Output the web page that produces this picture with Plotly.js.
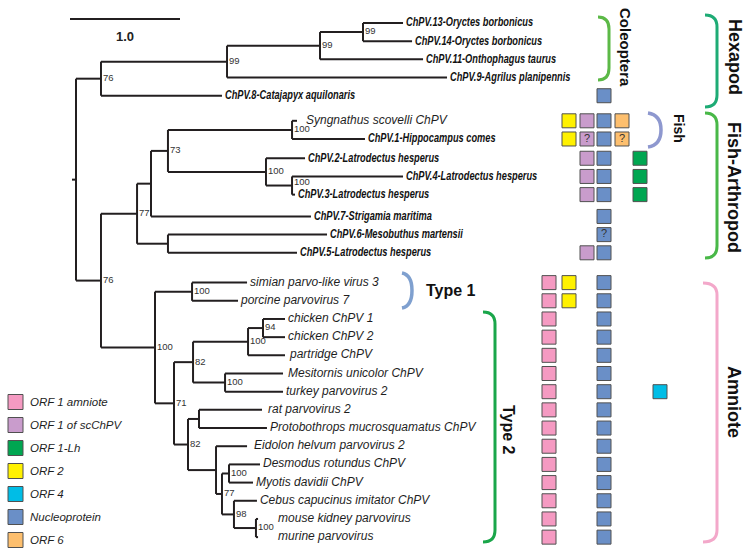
<!DOCTYPE html>
<html><head><meta charset="utf-8">
<script src="https://cdn.plot.ly/plotly-3.0.1.min.js"></script>
<style>html,body{margin:0;padding:0;background:#fff}#chart{width:754px;height:556px}</style>
</head><body><div id="chart"></div>
<script>
// ---------- DATA ----------
const leafNames = [
  'ChPV.13-Oryctes borbonicus','ChPV.14-Oryctes borbonicus','ChPV.11-Onthophagus taurus','ChPV.9-Agrilus planipennis',
  'ChPV.8-Catajapyx aquilonaris','Syngnathus scovelli ChPV','ChPV.1-Hippocampus comes','ChPV.2-Latrodectus hesperus',
  'ChPV.4-Latrodectus hesperus','ChPV.3-Latrodectus hesperus','ChPV.7-Strigamia maritima','ChPV.6-Mesobuthus martensii',
  'ChPV.5-Latrodectus hesperus','simian parvo-like virus 3','porcine parvovirus 7','chicken ChPV 1','chicken ChPV 2',
  'partridge ChPV','Mesitornis unicolor ChPV','turkey parvovirus 2','rat parvovirus 2','Protobothrops mucrosquamatus ChPV',
  'Eidolon helvum parvovirus 2','Desmodus rotundus ChPV','Myotis davidii ChPV','Cebus capucinus imitator ChPV',
  'mouse kidney parvovirus','murine parvovirus'];
const leafIsNew = [1,1,1,1,1,0,1,1,1,1,1,1,1,0,0,0,0,0,0,0,0,0,0,0,0,0,0,0];
const leafParent = ['E','E','D','C','B','K','K','L','M','M','H','I','I','O','O','S','S','R','T','T','V','V','W','Y','Y','Z','AA','AA'];
const leafDepth = [2.973,3.055,3.155,3.373,1.327,2.009,2.627,2.082,2.973,1.991,2.136,2.282,2.009,
  1.555,1.473,1.900,1.900,1.900,1.882,1.882,1.691,1.736,1.555,1.673,1.609,1.645,1.655,1.655];

const nodeIds     = ['A','B','C','D','E','F','G','H','J','K','L','M','I','N','O','P','Q','R','S','T','U','V','W','X','Y','Z','AA'];
const nodeParent  = [null,'A','B','C','D','A','F','G','H','J','J','L','G','F','N','N','P','Q','R','Q','P','U','U','W','X','X','Z'];
const nodeDepth   = [0,0.227,1.373,2.218,2.609,0.227,0.555,0.682,0.836,1.964,1.727,1.964,0.836,0.718,1.055,0.891,1.064,1.564,1.700,1.355,1.018,1.118,1.273,1.327,1.391,1.436,1.636];
const nodeSupport = ['','76','99','99','99','76','77','','73','100','100','100','','100','100','71','82','100','94','100','82','','','77','100','98','100'];

const genes = ['ORF 1 amniote','ORF 1 of scChPV','ORF 1-Lh','ORF 2','ORF 4','Nucleoprotein','ORF 6'];
// 0 = absent, 1 = present, 2 = uncertain (?)
const orf1Amniote = [0,0,0,0,0,0,0,0,0,0,0,0,0,1,1,1,1,1,1,1,1,1,1,1,1,1,1,1];
const orf1Sc      = [0,0,0,0,0,1,2,1,1,1,0,0,1,0,0,0,0,0,0,0,0,0,0,0,0,0,0,0];
const orf1Lh      = [0,0,0,0,0,0,0,1,1,1,0,0,0,0,0,0,0,0,0,0,0,0,0,0,0,0,0,0];
const orf2        = [0,0,0,0,0,1,1,0,0,0,0,0,0,1,1,0,0,0,0,0,0,0,0,0,0,0,0,0];
const orf4        = [0,0,0,0,0,0,0,0,0,0,0,0,0,0,0,0,0,0,0,1,0,0,0,0,0,0,0,0];
const nucleo      = [0,0,0,0,1,1,1,1,1,1,1,2,1,1,1,1,1,1,1,1,1,1,1,1,1,1,1,1];
const orf6        = [0,0,0,0,0,1,2,0,0,0,0,0,0,0,0,0,0,0,0,0,0,0,0,0,0,0,0,0];
const geneData = [orf1Amniote, orf1Sc, orf1Lh, orf2, orf4, nucleo, orf6];

// ---------- LAYOUT HELPERS ----------
const W = 754, H = 556;
const PX_PER_UNIT = 110, ROOT_PX = 76, ROW_PX = 18.18, ROW0_PX = 23;
const px2x = p => (p - ROOT_PX) / PX_PER_UNIT;
const py2y = p => (p - ROW0_PX) / ROW_PX;
const rowPos = i => i + (i >= 5 ? 0.38 : 0) + (i >= 7 ? 0.06 : 0) + (i >= 10 ? 0.2 : 0) + (i >= 13 ? 0.64 : 0);
// extra spacing (px) between some branch tips and their labels, as drawn in the original
const labelExtraPx = {'Syngnathus scovelli ChPV':6, 'mouse kidney parvovirus':17, 'murine parvovirus':17,
  'Eidolon helvum parvovirus 2':4, 'rat parvovirus 2':3, 'partridge ChPV':2, 'Mesitornis unicolor ChPV':2};
// small vertical nudges (px) of some support labels
const supportDyPx = {M: -3};

const geneColors = ['#f59ac2','#c99ccc','#00a651','#fff100','#00bde6','#6a8fc7','#fdbf6e'];
const geneColPx  = [549, 587, 640, 569, 660, 604, 622];

// ---------- TREE GEOMETRY ----------
const node = {};
nodeIds.forEach((id, k) => node[id] = {id, parent: nodeParent[k], x: nodeDepth[k], sup: nodeSupport[k], kids: []});
const leafY = leafNames.map((_, i) => rowPos(i));
leafNames.forEach((n, i) => node[leafParent[i]].kids.push({x: leafDepth[i], y: leafY[i], leaf: true}));
nodeIds.forEach(id => { if (node[id].parent) node[node[id].parent].kids.push(node[id]); });
function yOf(n) {
  if (n.leaf) return n.y;
  if (n.y !== undefined) return n.y;
  const ys = n.kids.map(yOf);
  n.ymin = Math.min(...ys); n.ymax = Math.max(...ys);
  n.y = (n.ymin + n.ymax) / 2;
  return n.y;
}
yOf(node['A']);

const bx = [], by = [];
nodeIds.forEach(id => {
  const n = node[id];
  bx.push(n.x, n.x, null); by.push(n.ymin, n.ymax, null);
  n.kids.forEach(c => { bx.push(n.x, c.x, null); by.push(c.y, c.y, null); });
});
bx.push(node['A'].x - 4 / PX_PER_UNIT, node['A'].x, null); by.push(node['A'].y, node['A'].y, null);

const traces = [];
traces.push({type:'scatter', mode:'lines', x: bx, y: by, line:{color:'#231f20', width:2}, hoverinfo:'skip', showlegend:false});

const lblX = i => leafDepth[i] + (3 + (labelExtraPx[leafNames[i]] || 0)) / PX_PER_UNIT;
const boldIdx = leafNames.map((_, i) => i).filter(i => leafIsNew[i]);
const regIdx  = leafNames.map((_, i) => i).filter(i => !leafIsNew[i]);
traces.push({type:'scatter', mode:'text', x: boldIdx.map(lblX), y: boldIdx.map(i => leafY[i]),
  text: boldIdx.map(i => leafNames[i]), textposition:'middle right',
  textfont:{family:'Liberation Sans, Arial, sans-serif', size:13.5, weight:'bold', style:'italic', color:'#111'},
  hoverinfo:'skip', showlegend:false, cliponaxis:false});
traces.push({type:'scatter', mode:'text', x: regIdx.map(lblX), y: regIdx.map(i => leafY[i]),
  text: regIdx.map(i => leafNames[i]), textposition:'middle right',
  textfont:{family:'Liberation Sans, Arial, sans-serif', size:12, style:'italic', color:'#1e1e1e'},
  hoverinfo:'skip', showlegend:false, cliponaxis:false});

const supIds = nodeIds.filter(id => node[id].sup !== '');
traces.push({type:'scatter', mode:'text', x: supIds.map(id => node[id].x + 2 / PX_PER_UNIT),
  y: supIds.map(id => node[id].y + (supportDyPx[id] || 0) / ROW_PX),
  text: supIds.map(id => node[id].sup), textposition:'middle right',
  textfont:{family:'Liberation Sans, Arial, sans-serif', size:9.5, color:'#333'},
  hoverinfo:'skip', showlegend:false, cliponaxis:false});

geneData.forEach((arr, g) => {
  const idx = arr.map((v, i) => i).filter(i => arr[i] > 0);
  traces.push({type:'scatter', mode:'markers+text', name: genes[g],
    x: idx.map(() => px2x(geneColPx[g])), y: idx.map(i => leafY[i]),
    text: idx.map(i => arr[i] === 2 ? '?' : ''), textposition:'middle center',
    textfont:{family:'Liberation Sans, Arial, sans-serif', size:11, color:'#333'},
    marker:{symbol:'square', size:14, color: geneColors[g], line:{color:'#505050', width:1}},
    hoverinfo:'skip', showlegend:false, cliponaxis:false});
});

// ---------- DECORATIONS ----------
const shapes = [], annotations = [];
const sbx0 = px2x(70);
shapes.push({type:'line', xref:'x', yref:'y', x0: sbx0, x1: sbx0 + 1.0, y0: py2y(19), y1: py2y(19), line:{color:'#231f20', width:2}});
annotations.push({xref:'x', yref:'y', x: sbx0 + 0.5, y: py2y(36), text:'<b>1.0</b>', showarrow:false,
  font:{family:'Liberation Sans, Arial, sans-serif', size:13, color:'#222'}});

function P(xp, yp) { return px2x(xp).toFixed(4) + ',' + py2y(yp).toFixed(4); }
function brace(xe, xv, yt, yb, color, r) {
  r = r || 12;
  const d = 'M ' + P(xe, yt) + ' Q ' + P(xv, yt) + ' ' + P(xv, yt + r) + ' L ' + P(xv, yb - r) + ' Q ' + P(xv, yb) + ' ' + P(xe, yb);
  shapes.push({type:'path', xref:'x', yref:'y', path: d, line:{color, width:3}});
}
function crescent(xe, xf, yt, yb, color) {
  const ym = (yt + yb) / 2;
  const d = 'M ' + P(xe, yt) + ' Q ' + P(xf, yt + 2) + ' ' + P(xf, ym) + ' Q ' + P(xf, yb - 2) + ' ' + P(xe, yb);
  shapes.push({type:'path', xref:'x', yref:'y', path: d, line:{color, width:3.5}});
}
brace(598, 609, 17, 80, '#5cb947');
brace(705, 717, 15, 107, '#1eab75');
crescent(648, 661, 113, 147, '#8e98cf');
brace(705, 717, 113, 258, '#49b848');
crescent(402, 412, 273, 308, '#7fa0cf');
brace(483, 495, 312, 542, '#1aa64a');
brace(703, 717, 283, 542, '#f3a8ca');

function vlabel(txt, xp, yp, size) {
  annotations.push({xref:'x', yref:'y', x: px2x(xp), y: py2y(yp), text:'<b>' + txt + '</b>', textangle: 90, showarrow:false,
    font:{family:'Liberation Sans, Arial, sans-serif', size, color:'#111'}});
}
vlabel('Coleoptera', 626, 47, 15);
vlabel('Hexapod', 735, 57, 18);
vlabel('Fish', 679, 128, 14);
vlabel('Fish-Arthropod', 734, 187, 18);
vlabel('Type 2', 509, 430, 16);
vlabel('Amniote', 734, 402, 18);
annotations.push({xref:'x', yref:'y', x: px2x(424), y: py2y(290), xanchor:'left', text:'<b>Type 1</b>', showarrow:false,
  font:{family:'Liberation Sans, Arial, sans-serif', size:16, color:'#111'}});

genes.forEach((g, k) => {
  const yc = 402 + 23 * k;
  shapes.push({type:'rect', xref:'x', yref:'y', x0: px2x(8), x1: px2x(23), y0: py2y(yc - 7.5), y1: py2y(yc + 7.5),
    fillcolor: geneColors[k], line:{color:'#505050', width:1}});
  annotations.push({xref:'x', yref:'y', x: px2x(28), y: py2y(yc), xanchor:'left', text: g, showarrow:false,
    font:{family:'Liberation Sans, Arial, sans-serif', size:11.5, style:'italic', color:'#1e1e1e'}});
});

const layout = {
  width: W, height: H, margin:{l:0, r:0, t:0, b:0},
  paper_bgcolor:'#ffffff', plot_bgcolor:'#ffffff',
  xaxis:{range:[px2x(0), px2x(W)], visible:false, fixedrange:true},
  yaxis:{range:[py2y(H), py2y(0)], visible:false, fixedrange:true},
  shapes, annotations, showlegend:false
};
Plotly.newPlot('chart', traces, layout, {displayModeBar:false, staticPlot:true}).then(gd => {
  // condense the bold labels (the original uses a condensed face)
  const groups = gd.querySelectorAll('.scatterlayer .trace');
  const boldGroup = groups[1];
  if (boldGroup) {
    boldGroup.querySelectorAll('text').forEach(t => {
      const w = t.getComputedTextLength();
      if (w > 0) { t.setAttribute('textLength', (w * 0.685).toFixed(1)); t.setAttribute('lengthAdjust', 'spacingAndGlyphs'); }
    });
  }
});
</script></body></html>
